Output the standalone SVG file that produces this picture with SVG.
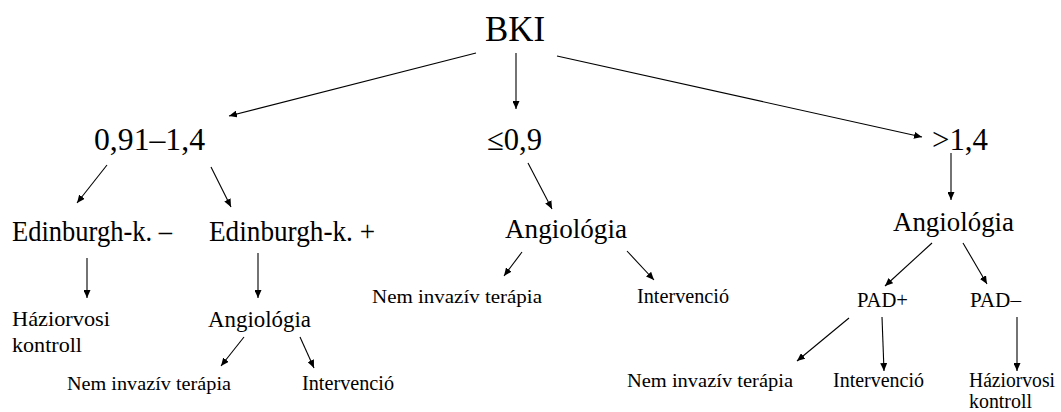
<svg xmlns="http://www.w3.org/2000/svg" width="1061" height="412" viewBox="0 0 1061 412">
  <defs>
    <marker id="arrow" markerUnits="userSpaceOnUse" markerWidth="9" markerHeight="7" refX="8" refY="3.5" orient="auto">
      <path d="M0,0 L8,3.5 L0,7 z" fill="#000"/>
    </marker>
    <style>
      .c { stroke: #000; stroke-width: 1.1; fill: none; marker-end: url(#arrow); }
      .t36 { font-size: 36px; }
      .t31 { font-size: 31.5px; }
      .t29 { font-size: 29.5px; }
      .t27 { font-size: 27px; }
      .t23 { font-size: 23px; }
      .t22 { font-size: 22px; }
      .t20 { font-size: 20px; }
      .t19 { font-size: 19.5px; }
    </style>
  </defs>
  <rect width="1061" height="412" fill="#fff"/>

  <g id="connectors">
    <line class="c" x1="476" y1="53" x2="229" y2="116"/>
    <line class="c" x1="516" y1="53" x2="516" y2="109"/>
    <line class="c" x1="557" y1="56" x2="922" y2="137"/>

    <line class="c" x1="107" y1="165" x2="77" y2="203"/>
    <line class="c" x1="211" y1="167" x2="231" y2="207"/>
    <line class="c" x1="87" y1="258" x2="87" y2="298"/>
    <line class="c" x1="258" y1="253" x2="258" y2="298"/>
    <line class="c" x1="244" y1="337" x2="221" y2="366"/>
    <line class="c" x1="300" y1="337" x2="314" y2="368"/>

    <line class="c" x1="528" y1="163" x2="552" y2="209"/>
    <line class="c" x1="522" y1="252" x2="504" y2="276"/>
    <line class="c" x1="627" y1="251" x2="654" y2="280"/>

    <line class="c" x1="951" y1="153" x2="951" y2="200"/>
    <line class="c" x1="932" y1="243" x2="885" y2="286"/>
    <line class="c" x1="963" y1="243" x2="987" y2="284"/>
    <line class="c" x1="849" y1="318" x2="797" y2="361"/>
    <line class="c" x1="882" y1="317" x2="884" y2="371"/>
    <line class="c" x1="1017" y1="317" x2="1017" y2="371"/>
  </g>

  <g font-family="'Liberation Serif', 'Times New Roman', Times, Tinos, 'Nimbus Roman', 'DejaVu Serif', 'Noto Serif', serif" fill="#000" lengthAdjust="spacingAndGlyphs">
  <g id="bki"><text class="t36" x="485" y="41" textLength="60" lengthAdjust="spacingAndGlyphs">BKI</text></g>

  <g id="range-normal"><text class="t31" x="94" y="150" textLength="111" lengthAdjust="spacingAndGlyphs">0,91–1,4</text></g>
  <g id="range-low"><text class="t31" x="487" y="150" textLength="55" lengthAdjust="spacingAndGlyphs">≤0,9</text></g>
  <g id="range-high"><text class="t31" x="932" y="150" textLength="56" lengthAdjust="spacingAndGlyphs">&gt;1,4</text></g>

  <g id="edinburgh-neg"><text class="t29" x="12" y="241" textLength="160" lengthAdjust="spacingAndGlyphs">Edinburgh-k. –</text></g>
  <g id="edinburgh-pos"><text class="t29" x="209" y="241" textLength="166" lengthAdjust="spacingAndGlyphs">Edinburgh-k. +</text></g>
  <g id="haziorvosi-left"><text class="t22" x="12" y="326" textLength="98" lengthAdjust="spacingAndGlyphs">Háziorvosi</text><text class="t22" x="12" y="352" textLength="70" lengthAdjust="spacingAndGlyphs">kontroll</text></g>
  <g id="angiologia-left"><text class="t23" x="208" y="327" textLength="103" lengthAdjust="spacingAndGlyphs">Angiológia</text></g>
  <g id="nem-invaziv-left"><text class="t19" x="67" y="390" textLength="164" lengthAdjust="spacingAndGlyphs">Nem invazív terápia</text></g>
  <g id="intervencio-left"><text class="t20" x="302" y="390" textLength="92" lengthAdjust="spacingAndGlyphs">Intervenció</text></g>

  <g id="angiologia-mid"><text class="t27" x="505" y="238" textLength="122" lengthAdjust="spacingAndGlyphs">Angiológia</text></g>
  <g id="nem-invaziv-mid"><text class="t19" x="372" y="303" textLength="170" lengthAdjust="spacingAndGlyphs">Nem invazív terápia</text></g>
  <g id="intervencio-mid"><text class="t20" x="637" y="303" textLength="92" lengthAdjust="spacingAndGlyphs">Intervenció</text></g>

  <g id="angiologia-right"><text class="t27" x="893" y="231" textLength="121" lengthAdjust="spacingAndGlyphs">Angiológia</text></g>
  <g id="pad-pos"><text class="t20" x="857" y="307" textLength="51" lengthAdjust="spacingAndGlyphs">PAD+</text></g>
  <g id="pad-neg"><text class="t20" x="970" y="307" textLength="51" lengthAdjust="spacingAndGlyphs">PAD–</text></g>
  <g id="nem-invaziv-right"><text class="t19" x="627" y="387" textLength="166" lengthAdjust="spacingAndGlyphs">Nem invazív terápia</text></g>
  <g id="intervencio-right"><text class="t20" x="833" y="387" textLength="91" lengthAdjust="spacingAndGlyphs">Intervenció</text></g>
  <g id="haziorvosi-right"><text class="t20" x="969" y="387" textLength="86" lengthAdjust="spacingAndGlyphs">Háziorvosi</text><text class="t20" x="969" y="408" textLength="63" lengthAdjust="spacingAndGlyphs">kontroll</text></g>
  </g>
</svg>
